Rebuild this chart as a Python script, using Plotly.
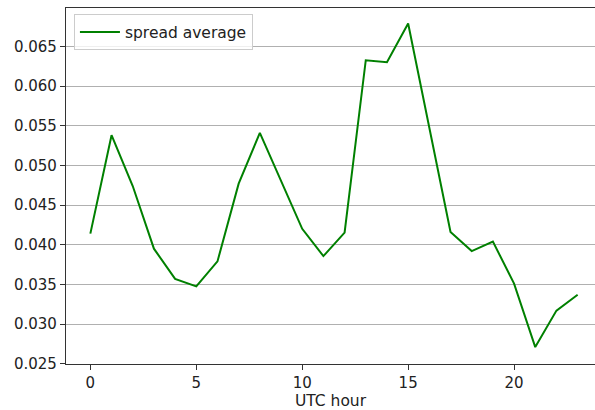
import plotly.graph_objects as go

hours = list(range(24))
spread_avg = [0.0414, 0.0538, 0.0474, 0.0395, 0.0357, 0.03475, 0.0379, 0.0477,
              0.0541, 0.0481, 0.0420, 0.03857, 0.04152, 0.06325, 0.0630, 0.06788,
              0.0547, 0.0416, 0.0392, 0.0404, 0.0351, 0.0271, 0.0317, 0.0337]
y_ticks = [0.025, 0.030, 0.035, 0.040, 0.045, 0.050, 0.055, 0.060, 0.065]
x_ticks = [0, 5, 10, 15, 20]

fig = go.Figure()
fig.add_trace(go.Scatter(x=hours, y=spread_avg, mode="lines", name="spread average",
                         line=dict(color="#008000", width=2)))

font = dict(family="DejaVu Sans", size=15, color="#222222")
fig.update_layout(
    width=595, height=410,
    margin=dict(l=66, r=0, t=8, b=46),
    paper_bgcolor="white", plot_bgcolor="white",
    font=font,
    showlegend=True,
    legend=dict(x=0.015, y=0.982, xanchor="left", yanchor="top",
                bgcolor="rgba(255,255,255,0.8)", bordercolor="#cccccc", borderwidth=1,
                itemwidth=40, tracegroupgap=0,
                font=dict(family="DejaVu Sans", size=15.5, color="#222222")),
    xaxis=dict(range=[-1.15, 23.82], tickvals=x_ticks, ticktext=[str(t) for t in x_ticks],
               showgrid=False, zeroline=False, showline=True, linecolor="#333333",
               linewidth=1.2, mirror=True, ticks="outside", ticklen=5, tickcolor="#333333",
               tickfont=dict(size=15),
               title=dict(text="UTC hour", font=dict(family="DejaVu Sans", size=15.5, color="#222222"),
                          standoff=2)),
    yaxis=dict(range=[0.02497, 0.06983], tickvals=y_ticks,
               ticktext=[f"{t:.3f}" for t in y_ticks],
               tickfont=dict(size=15),
               showgrid=True, gridcolor="#b0b0b0", gridwidth=1,
               zeroline=False, showline=True, linecolor="#333333", linewidth=1.2,
               ticks="outside", ticklen=5, tickcolor="#333333"),
)

fig.write_html("out.html")
